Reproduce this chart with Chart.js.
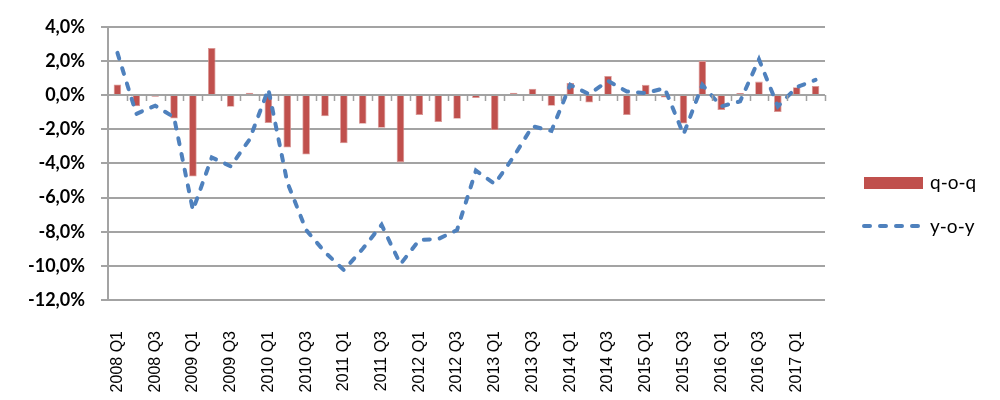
<!DOCTYPE html>
<html>
<head>
<meta charset="utf-8">
<script src="https://cdn.jsdelivr.net/npm/chart.js@4"></script>
<style>
  body { margin: 0; background: #fff; }
  #wrap { position: relative; width: 1000px; height: 400px; }
  .leg { position: absolute; left: 930px; font: 19px Lato, sans-serif; color: #000; line-height: 20px; }
  .box { position: absolute; left: 864px; top: 177px; width: 59px; height: 12px; background: #C0504D; }
  #dash { position: absolute; left: 858px; top: 220px; }
</style>
</head>
<body>
<div id="wrap">
  <canvas id="myChart" width="1000" height="400"></canvas>
  <div class="box"></div><div class="leg" style="top:172px">q-o-q</div>
  <canvas id="dash" width="70" height="12"></canvas><div class="leg" style="top:216px">y-o-y</div>
</div>
<script>
const quarters = [
  "2008 Q1","2008 Q2","2008 Q3","2008 Q4","2009 Q1","2009 Q2","2009 Q3","2009 Q4",
  "2010 Q1","2010 Q2","2010 Q3","2010 Q4","2011 Q1","2011 Q2","2011 Q3","2011 Q4",
  "2012 Q1","2012 Q2","2012 Q3","2012 Q4","2013 Q1","2013 Q2","2013 Q3","2013 Q4",
  "2014 Q1","2014 Q2","2014 Q3","2014 Q4","2015 Q1","2015 Q2","2015 Q3","2015 Q4",
  "2016 Q1","2016 Q2","2016 Q3","2016 Q4","2017 Q1","2017 Q2"
];
// quarter on quarter change, %
const qoq = [0.62, -0.66, -0.10, -1.37, -4.77, 2.76, -0.68, 0.14, -1.64, -3.07,
  -3.48, -1.24, -2.82, -1.68, -1.91, -3.94, -1.16, -1.58, -1.39, -0.17,
  -2.05, 0.14, 0.37, -0.62, 0.71, -0.43, 1.12, -1.16, 0.60, -0.14,
  -1.66, 1.99, -0.87, 0.12, 0.79, -0.99, 0.46, 0.54];
// year on year change, %
const yoy = [2.47, -1.10, -0.62, -1.30, -6.74, -3.65, -4.17, -2.60, 0.35, -5.10,
  -7.90, -9.20, -10.25, -9.00, -7.60, -9.90, -8.48, -8.43, -7.90, -4.42,
  -5.20, -3.60, -1.82, -2.10, 0.60, 0.05, 0.83, 0.21, 0.12, 0.41,
  -2.30, 0.60, -0.66, -0.37, 2.09, -0.66, 0.46, 0.89];
const yTicks = [-12, -10, -8, -6, -4, -2, 0, 2, 4];

const lineDash = [6, 10];

//small tick marks hanging under the zero line
const zeroTicks = {
  id: "zeroTicks",
  afterDatasetsDraw(chart) {
    const x = chart.scales.x, y = chart.scales.y;
    const y0 = y.getPixelForValue(0);
    const w = (x.right - x.left) / quarters.length;
    const ctx = chart.ctx;
    ctx.save();
    ctx.strokeStyle = "#a0a0a0";
    ctx.lineWidth = 1.5;
    ctx.beginPath();
    for (let k = 1; k <= quarters.length; k++) {
      const px = Math.round(x.left + k * w) + 0.5;
      ctx.moveTo(px, y0);
      ctx.lineTo(px, y0 + 6);
    }
    ctx.stroke();
    ctx.restore();
  }
};

// legend sample for the dashed line
const dctx = document.getElementById("dash").getContext("2d");
dctx.strokeStyle = "#4F81BD";
dctx.lineWidth = 4;
dctx.lineCap = "round";
dctx.setLineDash(lineDash);
dctx.beginPath();
dctx.moveTo(6, 6);
dctx.lineTo(64, 6);
dctx.stroke();

const ctx = document.getElementById("myChart").getContext("2d");
new Chart(ctx, {
  data: {
    labels: quarters,
    datasets: [
      {
        type: "line",
        label: "y-o-y",
        data: yoy,
        borderColor: "#4F81BD",
        borderWidth: 4,
        borderDash: lineDash,
        borderCapStyle: "round",
        pointRadius: 0,
        tension: 0,
        order: 1
      },
      {
        type: "bar",
        label: "q-o-q",
        data: qoq,
        backgroundColor: "#C0504D",
        borderColor: "#D99694",
        borderWidth: 0.8,
        categoryPercentage: 1,
        barPercentage: 0.4,
        order: 2
      }
    ]
  },
  options: {
    responsive: false,
    animation: false,
    layout: { padding: { top: 24, right: 175, left: 0, bottom: 0 } },
    plugins: { legend: { display: false }, tooltip: { enabled: false } },
    scales: {
      x: {
        offset: true,
        grid: { display: false },
        border: { display: false },
        afterFit: function (scale) { scale.height = 100; },
        ticks: {
          autoSkip: false,
          maxRotation: 90,
          minRotation: 90,
          padding: 23,
          color: "#000",
          font: { family: "Liberation Sans", size: 16 },
          callback: function (v, i) { return i % 2 === 0 ? quarters[i] : ""; }
        }
      },
      y: {
        min: -12,
        max: 4,
        afterBuildTicks: function (scale) { scale.ticks = yTicks.map(v => ({ value: v })); },
        afterFit: function (scale) { scale.width = 108; },
        grid: { color: "#a3a3a3", lineWidth: 2, tickLength: 7 },
        border: { color: "#a3a3a3", width: 2 },
        ticks: {
          padding: 16,
          color: "#000",
          font: { family: "Lato", size: 18, weight: "bold" },
          callback: function (v) { return v.toFixed(1).replace(".", ",") + "%"; }
        }
      }
    }
  },
  plugins: [zeroTicks]
});
</script>
</body>
</html>
